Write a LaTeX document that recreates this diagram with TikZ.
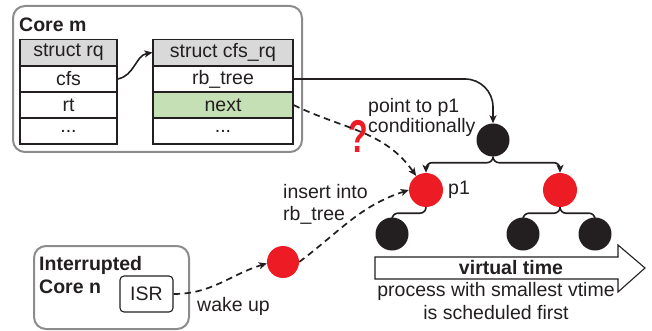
\documentclass[tikz,border=0pt]{standalone}
\usepackage{fontspec}
\setmainfont{Liberation Sans}
\usetikzlibrary{arrows.meta}
\definecolor{myred}{HTML}{ED1C24}
\definecolor{mygreen}{HTML}{C5E0B4}
\definecolor{hdrgray}{HTML}{D9D9D9}
\definecolor{boxgray}{HTML}{8C8C8C}
\definecolor{txt}{HTML}{231F20}
\tikzset{
  every node/.style={font=\fontsize{19.5}{21}\selectfont, text=txt},
  outerbox/.style={draw=boxgray, line width=2pt, rounded corners=12pt},
  cell/.style={draw=txt, line width=1.1pt, minimum height=26pt, inner sep=0pt, anchor=center},
  rqcell/.style={cell, minimum width=97pt},
  cfscell/.style={cell, minimum width=140pt},
  blk/.style={circle, fill=txt, minimum size=33pt, inner sep=0pt},
  rd/.style={circle, fill=myred, minimum size=34pt, inner sep=0pt},
  tip/.style={-{Stealth[length=8pt,width=7pt,inset=2pt]}},
  conn/.style={tip, line width=1.6pt, draw=txt},
  dconn/.style={tip, line width=1.7pt, draw=txt, dash pattern=on 6.5pt off 4.5pt},
  lbl/.style={inner sep=0pt, align=left, anchor=west},
}
\begin{document}
\begin{tikzpicture}[x=1pt, y=-1pt]
\useasboundingbox (0,0) rectangle (652,331);

% Core m box
\draw[outerbox] (13,6) rectangle (302,152);
\node[lbl, font=\fontsize{19.5}{21}\selectfont\bfseries] (corem) at (19,25) {Core m};

% struct rq table
\node[rqcell, fill=hdrgray] (rqhead) at (68.5,52.5) {struct rq};
\node[rqcell] (cfs) at (68.5,79) {cfs};
\node[rqcell] (rt) at (68.5,105) {rt};
\node[rqcell] (rqdots) at (68.5,131) {...};

% struct cfs_rq table
\node[cfscell, fill=hdrgray] (cfshead) at (223,52.5) {struct cfs\_rq};
\node[cfscell] (rbtree) at (223,79) {rb\_tree};
\node[cfscell, fill=mygreen] (next) at (223,105) {next};
\node[cfscell] (cfsdots) at (223,131) {...};

% virtual time arrow
\draw[line width=1.1pt, draw=txt, fill=white]
  (375,257) -- (618,257) -- (618,245) -- (645,268) -- (618,292) -- (618,279) -- (375,279) -- cycle;
\node[font=\fontsize{19.5}{21}\selectfont\bfseries] (vt) at (511,268) {virtual time};
\node[align=center, inner sep=0pt, font=\fontsize{19.5}{23}\selectfont] (proc) at (496,301.5) {process with smallest vtime\\is scheduled first};

% tree
\node[blk] (root) at (493,140) {};
\node[rd] (p1) at (426,190) {};
\node[rd] (r2) at (560,190) {};
\node[blk] (l1) at (392,234) {};
\node[blk] (l2) at (523,234) {};
\node[blk] (l3) at (595,234) {};

\draw[conn, rounded corners=6pt] (root.south) -- ++(0,6) -| (p1.north);
\draw[conn, rounded corners=6pt] (root.south) -- ++(0,6) -| (r2.north);
\draw[conn, rounded corners=6pt] (p1.south) -- ++(0,6) -| (l1.north);
\draw[conn, rounded corners=6pt] (r2.south) -- ++(0,6) -| (l2.north);
\draw[conn, rounded corners=6pt] (r2.south) -- ++(0,6) -| (l3.north);

% labels
\node[lbl, font=\fontsize{19.5}{20}\selectfont] (pt) at (368,117) {point to p1\\conditionally};
\node[lbl] (p1lbl) at (448,190) {p1};
\node[lbl, font=\fontsize{19.5}{22}\selectfont] (ins) at (283,204) {insert into\\rb\_tree};
\node[inner sep=0pt, text=myred, font=\fontsize{46}{46}\selectfont\bfseries, xscale=0.7] (q) at (358,136) {?};

% Interrupted core n
\draw[outerbox] (34,246) rectangle (189,329);
\node[lbl, font=\fontsize{19.5}{23}\selectfont\bfseries] (coren) at (39,275.5) {Interrupted\\Core n};
\node[draw=txt, line width=1.1pt, rounded corners=4pt, minimum width=53pt, minimum height=36pt, inner sep=0pt] (isr) at (146.5,294) {ISR};
\node[rd, minimum size=32pt] (wake) at (283,262) {};
\node[lbl] (wk) at (197,306) {wake up};

% connectors
\draw[conn] (cfs.east) to[out=10, in=190] (cfshead.west);
\draw[conn, rounded corners=28pt] (rbtree.east) -| (root.north);
\draw[dconn] (next.east) to[out=-26, in=125] (p1.125);
\draw[dconn] (isr.east) to[out=0, in=197] (wake.185);
\draw[dconn] (wake.east) to[out=37, in=198] (p1.west);
\end{tikzpicture}
\end{document}
